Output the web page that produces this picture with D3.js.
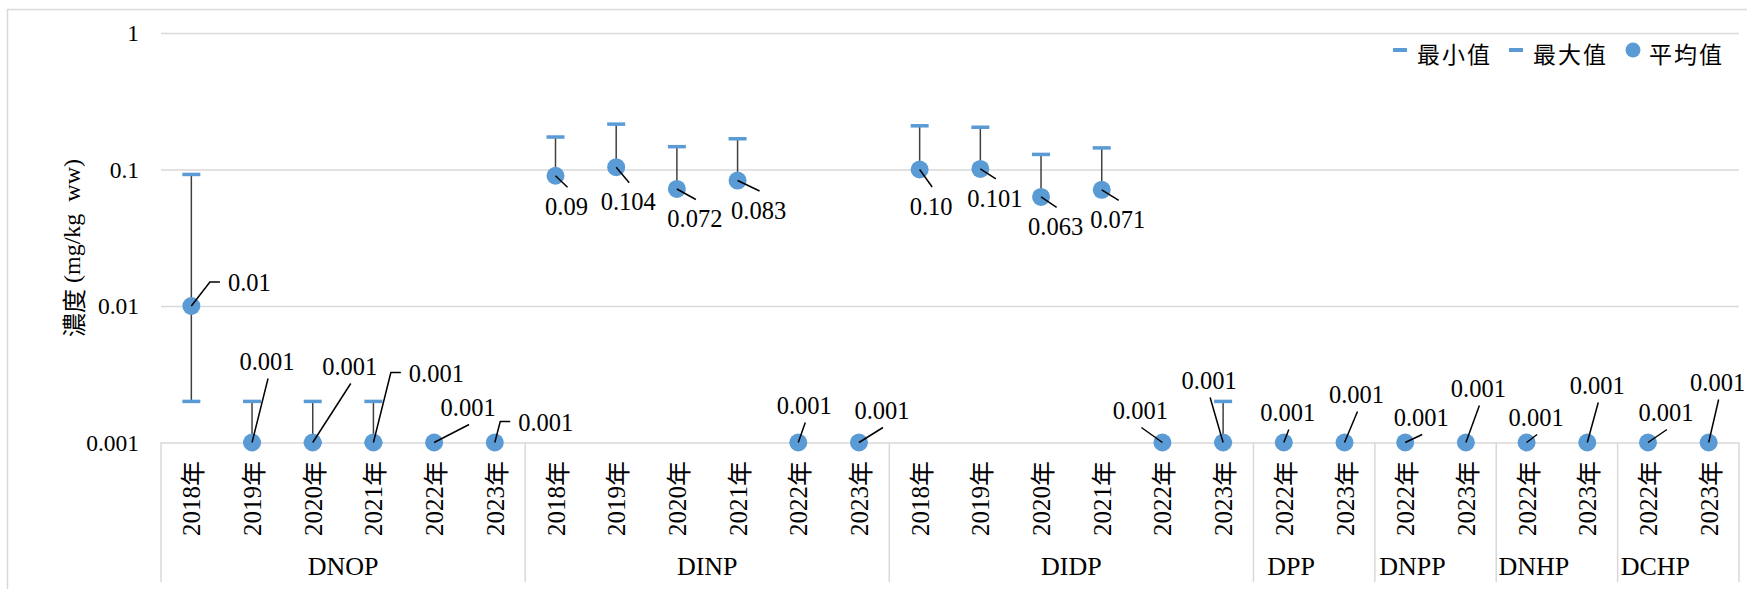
<!DOCTYPE html>
<html>
<head>
<meta charset="utf-8">
<script src="https://cdn.jsdelivr.net/npm/d3@7"></script>
<style>
  body { margin: 0; background: #fff; }
  text, tspan { font-family: "Liberation Serif", "Times New Roman", serif; fill: #000; }
</style>
</head>
<body>
<div id="chart"></div>
<script>
// chart data

const groups = ["DNOP", "DINP", "DIDP", "DPP", "DNPP", "DNHP", "DCHP"];
const groupYears = [
  ["2018年", "2019年", "2020年", "2021年", "2022年", "2023年"],
  ["2018年", "2019年", "2020年", "2021年", "2022年", "2023年"],
  ["2018年", "2019年", "2020年", "2021年", "2022年", "2023年"],
  ["2022年", "2023年"],
  ["2022年", "2023年"],
  ["2022年", "2023年"],
  ["2022年", "2023年"]
];

const meanValues = [
  0.01, 0.001, 0.001, 0.001, 0.001, 0.001,
  0.09, 0.104, 0.072, 0.083, 0.001, 0.001,
  0.10, 0.101, 0.063, 0.071, 0.001, 0.001,
  0.001, 0.001,
  0.001, 0.001,
  0.001, 0.001,
  0.001, 0.001
];
const minValues = [
  0.002, 0.001, 0.001, 0.001, null, null,
  null, null, null, null, null, null,
  null, null, null, null, null, 0.001,
  null, null,
  null, null,
  null, null,
  null, null
];
const maxValues = [
  0.092, 0.002, 0.002, 0.002, null, null,
  0.173, 0.215, 0.147, 0.168, null, null,
  0.209, 0.204, 0.129, 0.144, null, 0.002,
  null, null,
  null, null,
  null, null,
  null, null
];
const meanLabels = [
  "0.01", "0.001", "0.001", "0.001", "0.001", "0.001",
  "0.09", "0.104", "0.072", "0.083", "0.001", "0.001",
  "0.10", "0.101", "0.063", "0.071", "0.001", "0.001",
  "0.001", "0.001",
  "0.001", "0.001",
  "0.001", "0.001",
  "0.001", "0.001"
];
// where each data label was dragged to (label centre relative to its point)
const labelOffsets = [
  [58, -23], [15, -81], [37, -76], [63, -69], [34, -35], [51, -20],
  [11, 31], [12, 35], [18, 30], [21, 30], [6, -37], [23, -32],
  [11.5, 37], [14.5, 29.5], [14.6, 30], [16, 30], [-22, -32], [-14, -62],
  [4, -30], [12, -48],
  [16, -25], [12.5, -54],
  [9.5, -25], [10, -57],
  [18, -30], [9, -60]
];

const yTicks = [0.001, 0.01, 0.1, 1];
const yTickLabels = ["0.001", "0.01", "0.1", "1"];
const legendItems = ["最小值", "最大值", "平均值"];

// layout
const width = 1747, height = 589;
const plot = {left: 161, right: 1739, top: 33, bottom: 442.5};
const blue = "#5B9BD5", grid = "#D9D9D9";
const serif = "'Liberation Serif', 'Times New Roman', serif";
const cjk = "'Noto Sans CJK TC', 'Noto Sans CJK SC', sans-serif";

const categories = groups.flatMap((g, gi) =>
  groupYears[gi].map(y => ({group: g, year: y, key: g + "|" + y})));
const points = categories.map((c, i) => ({
  ...c, mean: meanValues[i], min: minValues[i], max: maxValues[i],
  label: meanLabels[i], off: labelOffsets[i]
}));

const svg = d3.select("#chart").append("svg")
  .attr("width", width).attr("height", height);

svg.append("rect")
  .attr("x", 7.5).attr("y", 9.5)
  .attr("width", width + 10).attr("height", height + 10)
  .attr("fill", "#fff").attr("stroke", grid).attr("stroke-width", 1.5);

const x = d3.scaleBand()
  .domain(categories.map(c => c.key))
  .range([plot.left, plot.right]);
const y = d3.scaleLog()
  .domain([0.001, 1])
  .range([plot.bottom, plot.top]);
const cx = k => x(k) + x.bandwidth() / 2;

// gridlines
const gridG = svg.append("g")
  .attr("transform", `translate(${plot.left},0)`)
  .call(d3.axisLeft(y).tickValues(yTicks).tickSize(-(plot.right - plot.left)).tickFormat(""));
gridG.select(".domain").remove();
gridG.selectAll("line").attr("stroke", grid).attr("stroke-width", 1.5);

// y tick labels
const yAxis = svg.append("g")
  .attr("transform", `translate(${plot.left},0)`)
  .call(d3.axisLeft(y).tickValues(yTicks).tickSize(0).tickPadding(22)
    .tickFormat((d, i) => yTickLabels[i]));
yAxis.select(".domain").remove();
yAxis.selectAll("text")
  .style("font-family", serif)
  .style("font-size", "23.5px").attr("fill", "#000");

// y axis title, CJK and Latin parts set in their own fonts
const title = svg.append("text")
  .attr("transform", "translate(72,248) rotate(-90)")
  .attr("text-anchor", "middle")
  .attr("dominant-baseline", "central")
  .style("font-size", "24px");
title.append("tspan").style("font-family", cjk).text("濃度");
title.append("tspan").style("font-family", serif).attr("dx", 6).text("(mg/kg");
title.append("tspan").style("font-family", serif).attr("dx", 12).text("ww)");

// category axis: year labels
const xAxis = svg.append("g")
  .attr("transform", `translate(0,${plot.bottom})`)
  .call(d3.axisBottom(x).tickSize(0).tickFormat(""));
xAxis.select(".domain").remove();
xAxis.selectAll(".tick text").each(function(k) {
  const yr = k.split("|")[1];
  const t = d3.select(this)
    .attr("transform", "rotate(-90)")
    .attr("x", -18.5).attr("y", 0).attr("dy", null)
    .attr("text-anchor", "end")
    .attr("dominant-baseline", "central")
    .attr("fill", "#000")
    .style("font-size", "25px");
  t.append("tspan").style("font-family", serif).text(yr.slice(0, 4));
  t.append("tspan").style("font-family", cjk).text(yr.slice(4));
});

// group boxes and names
const groupInfo = groups.map((g, gi) => {
  const keys = groupYears[gi].map(yr => g + "|" + yr);
  const x0 = x(keys[0]), x1 = x(keys[keys.length - 1]) + x.bandwidth();
  return {name: g, x0, x1, n: keys.length};
});
const bounds = [plot.left, ...groupInfo.map(d => d.x1)];
svg.append("g").selectAll("line").data(bounds).join("line")
  .attr("x1", d => d).attr("x2", d => d)
  .attr("y1", plot.bottom).attr("y2", 582)
  .attr("stroke", grid).attr("stroke-width", 1.5);
svg.append("g").selectAll("text").data(groupInfo).join("text")
  .attr("x", d => (d.x0 + d.x1) / 2 - (d.n < 3 ? 23 : 0))
  .attr("y", 575)
  .attr("text-anchor", "middle")
  .style("font-family", serif)
  .style("font-size", "26px")
  .text(d => d.name);

// high-low lines and caps
svg.append("g").selectAll("line")
  .data(points.filter(p => p.max != null))
  .join("line")
  .attr("x1", p => cx(p.key)).attr("x2", p => cx(p.key))
  .attr("y1", p => y(p.min != null ? p.min : p.mean))
  .attr("y2", p => y(p.max))
  .attr("stroke", "#404040").attr("stroke-width", 1.5);

const caps = points.flatMap(p => [p.min, p.max].filter(v => v != null).map(v => ({key: p.key, v})));
svg.append("g").selectAll("rect").data(caps).join("rect")
  .attr("x", d => cx(d.key) - 9).attr("y", d => y(d.v) - 1.75)
  .attr("width", 18).attr("height", 3.5)
  .attr("fill", blue);

// mean points
svg.append("g").selectAll("circle").data(points).join("circle")
  .attr("cx", p => cx(p.key)).attr("cy", p => y(p.mean))
  .attr("r", 9).attr("fill", blue);

// data labels with leader lines
const labelG = svg.append("g");
points.forEach(p => {
  const px = cx(p.key), py = y(p.mean);
  const tx = px + p.off[0], ty = py + p.off[1];
  const t = labelG.append("text")
    .attr("x", tx).attr("y", ty + 8.3)
    .attr("text-anchor", "middle")
    .style("font-family", serif)
    .style("font-size", "24.5px")
    .text(p.label);
  const w = t.node().getComputedTextLength();
  const left = tx - w / 2, right = tx + w / 2;
  let pts;
  if (px >= left - 12 && px <= right + 12) {
    pts = [[px, py], [tx + 1, py > ty ? ty + 17 : ty - 19.5]];
  } else if (px < left) {
    pts = [[px, py], [left - 18, ty - 1], [left - 8, ty - 1]];
  } else {
    pts = [[px, py], [right + 18, ty - 1], [right + 8, ty - 1]];
  }
  labelG.insert("path", "text")
    .attr("d", d3.line()(pts))
    .attr("fill", "none").attr("stroke", "#000").attr("stroke-width", 1.5);
});

// legend
const legend = svg.append("g").attr("transform", "translate(1393,50)");
const item = legend.selectAll("g").data(legendItems).join("g")
  .attr("transform", (d, i) => `translate(${i * 116},0)`);
item.filter((d, i) => i < 2).append("rect")
  .attr("x", 0).attr("y", -2).attr("width", 14).attr("height", 4)
  .attr("fill", blue);
item.filter((d, i) => i === 2).append("circle")
  .attr("cx", 8).attr("cy", 0).attr("r", 7.5).attr("fill", blue);
item.append("text")
  .attr("x", 24).attr("y", 3)
  .attr("dominant-baseline", "central")
  .style("font-family", cjk)
  .style("font-size", "23px")
  .style("letter-spacing", "2px")
  .text(d => d);
</script>
</body>
</html>
